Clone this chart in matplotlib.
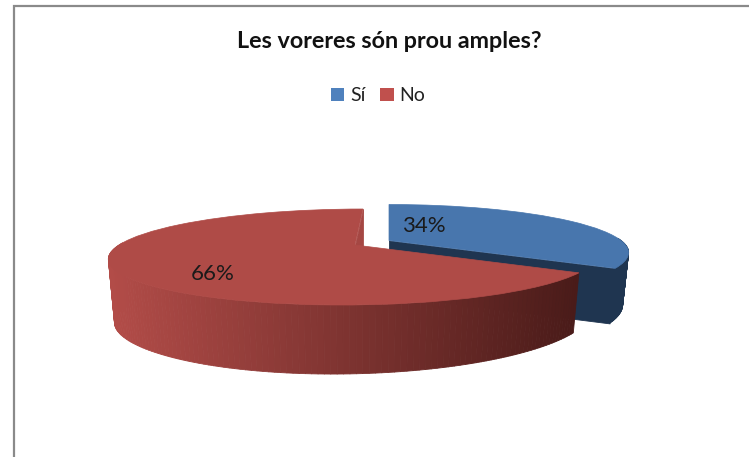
import matplotlib
matplotlib.use("Agg")
import matplotlib.pyplot as plt
import numpy as np
from matplotlib.collections import PolyCollection
from matplotlib.colors import LinearSegmentedColormap
from matplotlib.patches import Patch
from matplotlib.transforms import Transform

titulo = "Les voreres són prou amples?"
categorias = ["Sí", "No"]
valores = [34, 66]

# colors: top face, legend swatch
cor_topo = ["#4876AD", "#AF4B47"]
cor_legenda = ["#4F81BD", "#C0504D"]
cor_lateral = [["#1F3550", "#1F3550"], ["#B24C48", "#4A1B19"]]
# color of the cut wall seen on each slice
cor_corte = [["#1F3550", "#1F3550"], ["#A54743", "#A54743"]]

# pie apex in pixels, horizontal radius, lean and wall height of each slice
centros = [(389, 240.5), (355, 245)]
raios_x = [232, 236]
inclina = [0, 10]
alturas = [55, 60]
RAIO_Y = 45
PERSP = 0.25


def projeta(u, v, cx, cy, a, s, h=60, baixo=False):
    # unit circle coordinates -> picture pixels, with perspective
    w = 1 / (1 + PERSP * v)
    x = (a * u + s * v) * w
    y = -RAIO_Y * v * w
    if baixo:
        # the wall looks taller at the front and on the left
        altura = h + 9 * np.minimum(v, 0) ** 2 - 3 * u
        return cx + x * 0.975, cy + y + altura
    return cx + x, cy + y


class Perspectiva(Transform):
    input_dims = 2
    output_dims = 2
    is_separable = False

    def __init__(self, cx, cy, a, s):
        super().__init__()
        self.cx, self.cy, self.a, self.s = cx, cy, a, s

    def transform_non_affine(self, values):
        values = np.asarray(values)
        x, y = projeta(values[:, 0], values[:, 1], self.cx, self.cy, self.a, self.s)
        return np.column_stack([x, y])


def parede(ax, pontos_u, pontos_v, cx, cy, a, s, h, cores, zorder):
    # side wall made of thin quads, colored by horizontal position
    xt, yt = projeta(pontos_u, pontos_v, cx, cy, a, s)
    xb, yb = projeta(pontos_u, pontos_v, cx, cy, a, s, h, baixo=True)
    quads = []
    for i in range(len(xt) - 1):
        quads.append([(xt[i], yt[i]), (xt[i + 1], yt[i + 1]), (xb[i + 1], yb[i + 1]), (xb[i], yb[i])])
    mapa = LinearSegmentedColormap.from_list("lateral", cores)
    meio = (xt[:-1] + xt[1:]) / 2
    tons = np.clip((meio - 110) / (580 - 110), 0, 1)
    cols = mapa(tons)
    ax.add_collection(PolyCollection(quads, facecolors=cols, edgecolors=cols, linewidths=0.6, zorder=zorder))


fig = plt.figure(figsize=(7.49, 4.57), dpi=100)
ax = fig.add_axes([0, 0, 1, 1])

fatias, _ = ax.pie(valores, colors=cor_topo, startangle=90, counterclock=False)
ax.set_aspect("auto")
ax.set_xlim(0, 749)
ax.set_ylim(457, 0)
ax.axis("off")

for i, fatia in enumerate(fatias):
    cx, cy = centros[i]
    a = raios_x[i]
    s = inclina[i]
    h = alturas[i]
    th = np.radians(np.linspace(fatia.theta1, fatia.theta2, 200))
    # blue shows its cut at the lower end, red at the top of the pie
    corte = th[0]
    # only the near half of the rim can be seen
    th = th[np.sin(th) < 0.05]
    z = 2 + i * 2

    parede(ax, np.array([0, np.cos(corte)]), np.array([0, np.sin(corte)]), cx, cy, a, s, h, cor_corte[i], z)
    parede(ax, np.cos(th), np.sin(th), cx, cy, a, s, h, cor_lateral[i], z)

    fatia.set_transform(Perspectiva(cx, cy, a, s) + ax.transData)
    fatia.set_edgecolor(cor_topo[i])
    fatia.set_linewidth(0.5)
    fatia.set_zorder(z + 1)

fonte = ["Lato", "DejaVu Sans"]

ax.plot([14, 14, 749], [457, 6, 6], color="#8A8A8A", lw=1.6, solid_joinstyle="miter", clip_on=False)

ax.text(389.5, 41, titulo, ha="center", va="center", fontsize=16.8, fontweight="bold", family=fonte, color="#111111")

ax.text(424, 226, f"{valores[0]}%", ha="center", va="center", fontsize=16, family=fonte, color="#1A1A1A", zorder=10)
ax.text(213, 274, f"{valores[1]}%", ha="center", va="center", fontsize=16, family=fonte, color="#1A1A1A", zorder=10)

marcas = [Patch(facecolor=c, edgecolor="none") for c in cor_legenda]
ax.legend(marcas, categorias, ncol=2, loc="center", bbox_to_anchor=(378 / 749, 1 - 96 / 457),
          frameon=False, handlelength=0.7, handleheight=0.7, handletextpad=0.3, columnspacing=0.75,
          prop={"family": fonte, "size": 14}, labelcolor="#222222")

fig.savefig("out.png", dpi=100)
